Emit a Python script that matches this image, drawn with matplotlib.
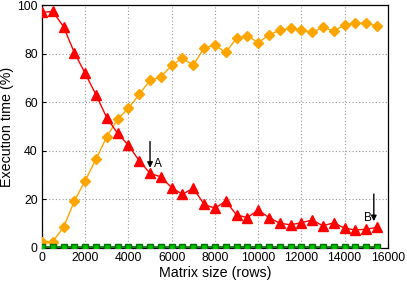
import matplotlib
matplotlib.use("Agg")
import matplotlib.pyplot as plt

plt.rcParams['font.family'] = ['Liberation Sans', 'DejaVu Sans']

sizes = [0, 500, 1000, 1500, 2000, 2500, 3000, 3500, 4000, 4500, 5000, 5500,
         6000, 6500, 7000, 7500, 8000, 8500, 9000, 9500, 10000, 10500, 11000,
         11500, 12000, 12500, 13000, 13500, 14000, 14500, 15000, 15500]
red_vals = [97.0, 97.4, 91.1, 80.4, 71.9, 63.1, 53.6, 47.2, 42.3, 35.9, 30.7, 29.3,
            24.8, 22.1, 24.6, 18.0, 16.3, 19.3, 13.6, 12.5, 15.6, 12.5, 10.2,
            9.5, 10.4, 11.5, 9.1, 10.4, 8.1, 7.4, 7.7, 8.5]
orange_vals = [2.6, 2.6, 8.5, 19.3, 27.7, 36.5, 45.8, 53.0, 57.5, 63.2, 69.1, 70.4,
               75.2, 78.1, 75.2, 82.4, 83.5, 80.5, 86.3, 87.4, 84.5, 87.7, 89.7,
               90.4, 89.7, 88.8, 90.8, 89.4, 91.8, 92.7, 92.5, 91.4]
green_vals = [0.3] * len(sizes)

xticks = [0, 2000, 4000, 6000, 8000, 10000, 12000, 14000, 16000]
yticks = [0, 20, 40, 60, 80, 100]

fig = plt.figure(figsize=(4.07, 2.84), dpi=100)
ax = fig.add_axes([0.103, 0.127, 0.850, 0.855])

ax.plot(sizes, orange_vals, color='#ffa500', marker='D', markersize=5.5, lw=1.0,
        markeredgecolor='#ffa500', zorder=3)
ax.plot(sizes, red_vals, color='#ff0000', marker='^', markersize=7, lw=1.0,
        markeredgecolor='#ff0000', zorder=3)
ax.plot(sizes, green_vals, color='#006400', marker='s', markersize=4.5, lw=1.2,
        markerfacecolor='#00c000', markeredgecolor='#007000', zorder=4)

ax.annotate('', xy=(5000, 33.0), xytext=(5000, 43.8),
            arrowprops=dict(arrowstyle='-|>', color='black', lw=1.0,
                            mutation_scale=8, shrinkA=0, shrinkB=0))
ax.text(5200, 34.5, 'A', fontsize=8.5, ha='left', va='center')
ax.annotate('', xy=(15350, 11.0), xytext=(15350, 22.2),
            arrowprops=dict(arrowstyle='-|>', color='black', lw=1.0,
                            mutation_scale=8, shrinkA=0, shrinkB=0))
ax.text(15250, 12.3, 'B', fontsize=8.5, ha='right', va='center')

ax.set_xlim(0, 16000)
ax.set_ylim(0, 100)
ax.set_xticks(xticks)
ax.set_yticks(yticks)
ax.set_xticklabels([str(t) for t in xticks])
ax.set_yticklabels([str(t) for t in yticks])
ax.tick_params(direction='in', length=3, labelsize=8.8, pad=3)
ax.grid(True, color='#999999', linestyle=(0, (1, 2)), lw=0.8)
ax.set_axisbelow(True)
for s in ax.spines.values():
    s.set_color('black')
    s.set_linewidth(0.9)

ax.set_xlabel('Matrix size (rows)', fontsize=10.3)
ax.set_ylabel('Execution time (%)', fontsize=10.3)
ax.xaxis.set_label_coords(0.5, -0.075)
ax.yaxis.set_label_coords(-0.082, 0.5)

fig.savefig('out.png', dpi=100)
